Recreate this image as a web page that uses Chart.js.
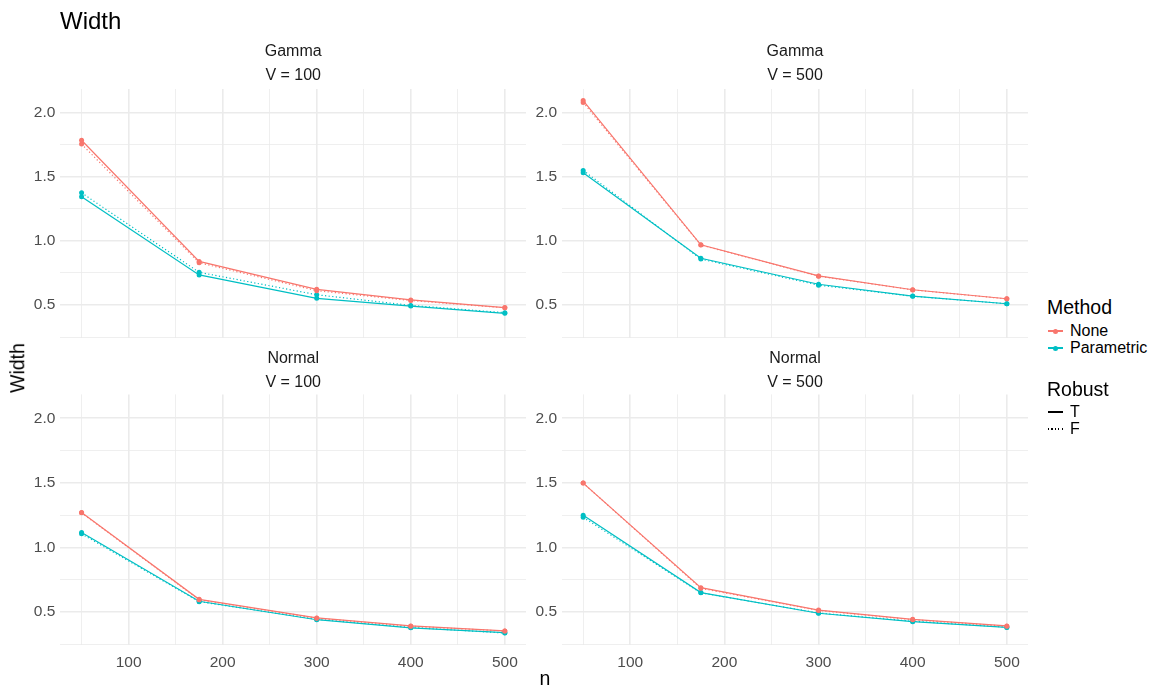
<!DOCTYPE html>
<html>
<head>
<meta charset="utf-8">
<script src="https://cdn.jsdelivr.net/npm/chart.js@4.4.1/dist/chart.umd.min.js"></script>
<style>
  html, body { margin: 0; padding: 0; background: #fff; }
  body { width: 1161px; height: 687px; position: relative; overflow: hidden;
         font-family: "Liberation Sans", Arial, sans-serif; }
  canvas { position: absolute; }
  .t { position: absolute; line-height: 1; white-space: nowrap; color: #000; transform: translateY(-50%); }
  .key { position: absolute; height: 1.2px; width: 15px; }
  .dot { position: absolute; width: 5px; height: 5px; border-radius: 50%; }
</style>
</head>
<body>
<canvas id="gamma100" width="530" height="322" style="left:0px;top:30px"></canvas>
<canvas id="gamma500" width="532" height="322" style="left:500px;top:30px"></canvas>
<canvas id="normal100" width="530" height="347" style="left:0px;top:340px"></canvas>
<canvas id="normal500" width="532" height="347" style="left:500px;top:340px"></canvas>

<div class="t" style="left:60px;top:21px;font-size:24px">Width</div>
<div class="t" style="left:17.5px;top:368px;font-size:19.5px;transform:translate(-50%,-50%) rotate(-90deg)">Width</div>
<div class="t" style="left:545px;top:679px;font-size:19.5px;transform:translate(-50%,-50%)">n</div>

<div class="t" style="left:1047px;top:308px;font-size:19.5px">Method</div>
<div class="key" style="left:1048px;top:330.4px;background:#F8766D"></div>
<div class="dot" style="left:1053px;top:328.5px;background:#F8766D"></div>
<div class="t" style="left:1070px;top:331px;font-size:16px">None</div>
<div class="key" style="left:1048px;top:347.4px;background:#00BFC4"></div>
<div class="dot" style="left:1053px;top:345.5px;background:#00BFC4"></div>
<div class="t" style="left:1070px;top:348px;font-size:16px">Parametric</div>

<div class="t" style="left:1047px;top:390px;font-size:19.5px">Robust</div>
<div class="key" style="left:1048px;top:411.4px;background:#000"></div>
<div class="t" style="left:1070px;top:412px;font-size:16px">T</div>
<div class="key" style="left:1048px;top:428.4px;background:repeating-linear-gradient(to right,#000 0 1.2px,transparent 1.2px 3.4px)"></div>
<div class="t" style="left:1070px;top:429px;font-size:16px">F</div>

<script>
// sample sizes on the x axis
const nValues = [50, 175, 300, 400, 500];

// Gamma, V = 100
const gamma100NoneT  = [1.785, 0.840, 0.622, 0.540, 0.480];
const gamma100NoneF  = [1.755, 0.830, 0.612, 0.535, 0.478];
const gamma100ParamT = [1.345, 0.735, 0.552, 0.492, 0.435];
const gamma100ParamF = [1.375, 0.755, 0.580, 0.497, 0.440];

// Gamma, V = 500
const gamma500NoneT  = [2.095, 0.970, 0.727, 0.619, 0.549];
const gamma500NoneF  = [2.080, 0.968, 0.725, 0.618, 0.548];
const gamma500ParamT = [1.532, 0.865, 0.662, 0.570, 0.510];
const gamma500ParamF = [1.550, 0.858, 0.655, 0.568, 0.510];

// Normal, V = 100
const normal100NoneT  = [1.270, 0.598, 0.454, 0.392, 0.353];
const normal100NoneF  = [1.268, 0.594, 0.452, 0.390, 0.352];
const normal100ParamT = [1.115, 0.583, 0.440, 0.377, 0.340];
const normal100ParamF = [1.105, 0.580, 0.443, 0.380, 0.337];

// Normal, V = 500
const normal500NoneT  = [1.498, 0.688, 0.515, 0.443, 0.392];
const normal500NoneF  = [1.498, 0.683, 0.512, 0.440, 0.390];
const normal500ParamT = [1.250, 0.650, 0.490, 0.425, 0.380];
const normal500ParamF = [1.233, 0.648, 0.492, 0.428, 0.382];

// grid breaks (major + minor, like ggplot)
const xBreaks = [50, 100, 150, 200, 250, 300, 350, 400, 450, 500];
const yBreaks = [0.25, 0.5, 0.75, 1.0, 1.25, 1.5, 1.75, 2.0];

const FONT = '"Liberation Sans", Arial, sans-serif';
const RED = '#F8766D';
const CYAN = '#00BFC4';

const xMajor = v => v % 100 === 0;
const yMajor = v => Math.abs(v * 2 - Math.round(v * 2)) < 1e-9;

function pts(arr) {
    return nValues.map((n, i) => ({ x: n, y: arr[i] }));
}

function makePanel(id, strip, series, opts) {
    const datasets = [];
    // lines first, points on top (like geom_line + geom_point)
    series.forEach(s => {
        datasets.push({
            data: pts(s.values),
            borderColor: s.color,
            borderWidth: 1.2,
            borderDash: s.dotted ? [1.2, 2.4] : [],
            pointRadius: 0,
            fill: false,
            tension: 0,
            order: 1
        });
    });
    series.forEach(s => {
        datasets.push({
            data: pts(s.values),
            showLine: false,
            pointRadius: 2.5,
            pointBorderWidth: 0,
            pointBackgroundColor: s.color,
            pointBorderColor: s.color,
            order: 0
        });
    });

    new Chart(document.getElementById(id), {
        type: 'line',
        data: { datasets },
        options: {
            responsive: false,
            animation: false,
            events: [],
            layout: { padding: { left: 0, right: 1.7, top: 0, bottom: opts.padBottom } },
            plugins: {
                legend: { display: false },
                tooltip: { enabled: false },
                title: {
                    display: true,
                    fullSize: false,
                    text: strip,
                    color: '#1A1A1A',
                    font: { family: FONT, size: 16, weight: 'normal', lineHeight: 1.46875 },
                    padding: { top: opts.titleTop, bottom: opts.titleBottom }
                }
            },
            scales: {
                x: {
                    type: 'linear',
                    min: 27.5,
                    max: 522.5,
                    afterBuildTicks: s => { s.ticks = xBreaks.map(v => ({ value: v })); },
                    afterFit: s => { s.height = opts.xHeight; },
                    border: { display: false },
                    grid: {
                        color: '#EBEBEB',
                        drawTicks: false,
                        lineWidth: c => (c.tick && xMajor(c.tick.value)) ? 1.6 : 0.8
                    },
                    ticks: {
                        display: opts.showX,
                        autoSkip: false,
                        maxRotation: 0,
                        padding: 8.8,
                        color: '#4D4D4D',
                        font: { family: FONT, size: 15.5 },
                        callback: v => xMajor(v) ? String(v) : ''
                    }
                },
                y: {
                    min: 0.245,
                    max: 2.185,
                    afterBuildTicks: s => { s.ticks = yBreaks.map(v => ({ value: v })); },
                    afterFit: s => { s.width = opts.yWidth; },
                    border: { display: false },
                    grid: {
                        color: '#EBEBEB',
                        drawTicks: false,
                        lineWidth: c => (c.tick && yMajor(c.tick.value)) ? 1.6 : 0.8
                    },
                    ticks: {
                        padding: 5,
                        color: '#4D4D4D',
                        font: { family: FONT, size: 15.5 },
                        callback: v => yMajor(v) ? v.toFixed(1) : ''
                    }
                }
            }
        }
    });
}

function seriesOf(noneT, noneF, paramT, paramF) {
    return [
        { values: noneT, color: RED, dotted: false },
        { values: noneF, color: RED, dotted: true },
        { values: paramT, color: CYAN, dotted: false },
        { values: paramF, color: CYAN, dotted: true }
    ];
}

// top row: the empty x axis keeps 12px so the y labels' half height fits below the panel
const topOpts = { titleTop: 10.25, titleBottom: 1.75, xHeight: 12, padBottom: 0.8, showX: false };
const bottomOpts = { titleTop: 7.25, titleBottom: 0.15, xHeight: 42.1, padBottom: 0, showX: true };

makePanel('gamma100', ['Gamma', 'V = 100'],
    seriesOf(gamma100NoneT, gamma100NoneF, gamma100ParamT, gamma100ParamF),
    Object.assign({ yWidth: 60.4 }, topOpts));
makePanel('gamma500', ['Gamma', 'V = 500'],
    seriesOf(gamma500NoneT, gamma500NoneF, gamma500ParamT, gamma500ParamF),
    Object.assign({ yWidth: 62 }, topOpts));
makePanel('normal100', ['Normal', 'V = 100'],
    seriesOf(normal100NoneT, normal100NoneF, normal100ParamT, normal100ParamF),
    Object.assign({ yWidth: 60.4 }, bottomOpts));
makePanel('normal500', ['Normal', 'V = 500'],
    seriesOf(normal500NoneT, normal500NoneF, normal500ParamT, normal500ParamF),
    Object.assign({ yWidth: 62 }, bottomOpts));
</script>
</body>
</html>
